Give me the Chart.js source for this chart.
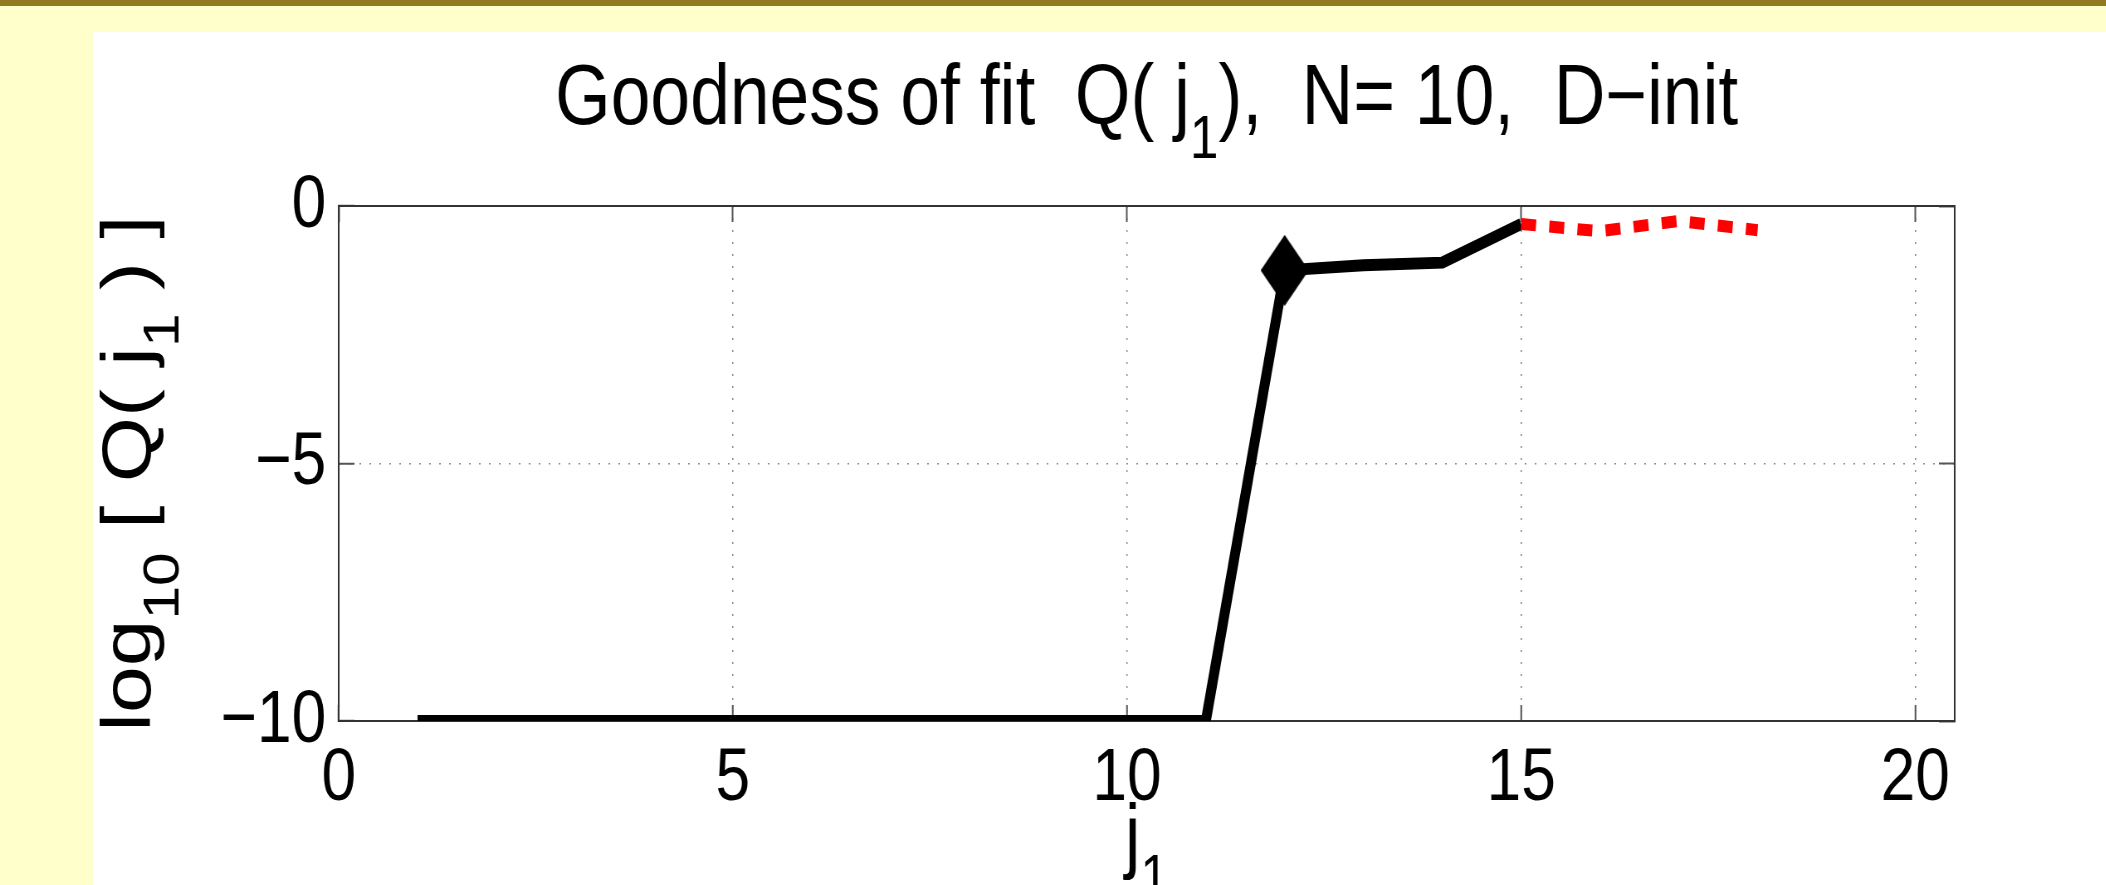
<!DOCTYPE html>
<html>
<head>
<meta charset="utf-8">
<script src="https://cdn.jsdelivr.net/npm/chart.js@4.4.0/dist/chart.umd.min.js"></script>
<style>
    html, body { margin: 0; padding: 0; width: 2106px; height: 885px; overflow: hidden; background: #ffffcc; }
    .band { position: absolute; left: 0; top: 0; width: 2106px; height: 6px; background: #8f7a21; }
    .panel { position: absolute; left: 93px; top: 32px; width: 2013px; height: 853px; background: #fff; overflow: hidden; }
    /* the original figure is squeezed sideways, so draw it wider and squash it */
    .wrap { position: absolute; left: 0; top: 0; width: 2425px; height: 853px; transform: scaleX(0.83); transform-origin: 0 0; }
</style>
</head>
<body>
<div class="band"></div>
<div class="panel">
    <div class="wrap"><canvas id="fitChart"></canvas></div>
</div>
<script>
// data
const jBlack = [1, 2, 3, 4, 5, 6, 7, 8, 9, 10, 11, 12, 13, 14, 15];
const qBlack = [-10, -10, -10, -10, -10, -10, -10, -10, -10, -10, -10, -1.25, -1.15, -1.1, -0.35];
const jRed = [15, 16, 17, 18];
const qRed = [-0.35, -0.49, -0.29, -0.47];
const jMarker = [12];
const qMarker = [-1.25];
const xTickValues = [0, 5, 10, 15, 20];
const yTickValues = [-10, -5, 0];

const fontFamily = "'Liberation Sans', Arial, Helvetica, sans-serif";

const titleParts = [{ t: 'Goodness of fit  Q( j' }, { t: '1', sub: true }, { t: '),  N= 10,  D\u2212init' }];
const yLabelParts = [{ t: 'log' }, { t: '10', sub: true }, { t: ' [ Q( j' }, { t: '1', sub: true }, { t: ' ) ]' }];
const xLabelParts = [{ t: 'j' }, { t: '1', sub: true }];

function toPoints(xs, ys) {
    return xs.map(function(x, i) { return { x: x, y: ys[i] }; });
}

function fmtTick(value) {
    return value < 0 ? '\u2212' + Math.abs(value) : String(value);
}

// MATLAB style diamond, a bit taller than wide
function makeDiamond(w, h) {
    const c = document.createElement('canvas');
    c.width = w;
    c.height = h;
    const g = c.getContext('2d');
    g.fillStyle = '#000';
    g.beginPath();
    g.moveTo(w / 2, 0);
    g.lineTo(w, h / 2);
    g.lineTo(w / 2, h);
    g.lineTo(0, h / 2);
    g.closePath();
    g.fill();
    return c;
}

function drawRich(ctx, parts, x, y, size) {
    const subSize = size * 0.72;
    const subDrop = size * 0.4;
    const fontOf = function(p) { return (p.sub ? subSize : size) + 'px ' + fontFamily; };
    let w = 0;
    parts.forEach(function(p) { ctx.font = fontOf(p); w += ctx.measureText(p.t).width; });
    let cx = x - w / 2;
    ctx.textAlign = 'left';
    ctx.textBaseline = 'alphabetic';
    parts.forEach(function(p) {
        ctx.font = fontOf(p);
        ctx.fillText(p.t, cx, y + (p.sub ? subDrop : 0));
        cx += ctx.measureText(p.t).width;
    });
}

// title and axis labels need subscripts, so draw them here
const mathLabels = {
    id: 'mathLabels',
    afterDraw: function(chart) {
        const ctx = chart.ctx;
        const a = chart.chartArea;
        const midX = (a.left + a.right) / 2;
        const midY = (a.top + a.bottom) / 2;
        ctx.save();
        ctx.fillStyle = '#000';
        drawRich(ctx, titleParts, midX, 92, 86);
        drawRich(ctx, xLabelParts, midX, 831, 84);
        ctx.translate(69, midY + 10);
        ctx.rotate(-Math.PI / 2);
        drawRich(ctx, yLabelParts, 0, 0, 84);
        ctx.restore();
    }
};

window.addEventListener('load', function() {
    const gridColor = '#8a8a8a';
    const tickColor = '#555';
    const borderColor = '#333';

    const ctx = document.getElementById('fitChart').getContext('2d');
    const fitChart = new Chart(ctx, {
        type: 'line',
        data: {
            datasets: [{
                label: 'marker',
                data: toPoints(jMarker, qMarker),
                showLine: false,
                pointStyle: makeDiamond(58, 71),
                pointRadius: 30,
                backgroundColor: '#000',
                order: 0
            }, {
                label: 'extension',
                data: toPoints(jRed, qRed),
                borderColor: '#ff0000',
                borderWidth: 12,
                borderDash: [18, 16],
                borderCapStyle: 'butt',
                pointRadius: 0,
                tension: 0,
                order: 1
            }, {
                label: 'Q(j1)',
                data: toPoints(jBlack, qBlack),
                borderColor: '#000',
                borderWidth: 12,
                borderCapStyle: 'butt',
                borderJoinStyle: 'miter',
                pointRadius: 0,
                tension: 0,
                order: 2
            }]
        },
        options: {
            responsive: true,
            maintainAspectRatio: false,
            animation: false,
            layout: {
                autoPadding: false,
                padding: { top: 174, right: 182, bottom: 24, left: 0 }
            },
            plugins: {
                legend: { display: false },
                tooltip: { enabled: false }
            },
            scales: {
                x: {
                    type: 'linear',
                    position: 'bottom',
                    min: 0,
                    max: 20.5,
                    afterBuildTicks: function(scale) {
                        scale.ticks = xTickValues.map(function(v) { return { value: v }; });
                    },
                    afterFit: function(scale) { scale.height = 140; },
                    grid: {
                        color: gridColor,
                        lineWidth: 1.5,
                        tickLength: -16,
                        tickColor: tickColor,
                        tickWidth: 2,
                        tickBorderDash: []
                    },
                    border: { display: true, color: borderColor, width: 2, dash: [2, 10] },
                    ticks: {
                        padding: 29,
                        color: '#000',
                        maxRotation: 0,
                        font: { family: fontFamily, size: 75 },
                        callback: fmtTick
                    }
                },
                y: {
                    type: 'linear',
                    position: 'left',
                    min: -10,
                    max: 0,
                    afterBuildTicks: function(scale) {
                        scale.ticks = yTickValues.map(function(v) { return { value: v }; });
                    },
                    afterFit: function(scale) { scale.width = 296; },
                    grid: {
                        color: gridColor,
                        lineWidth: 1.5,
                        tickLength: -19,
                        tickColor: tickColor,
                        tickWidth: 2,
                        tickBorderDash: []
                    },
                    border: { display: true, color: borderColor, width: 2, dash: [2, 10] },
                    ticks: {
                        padding: 34,
                        color: '#000',
                        font: { family: fontFamily, size: 75 },
                        callback: fmtTick
                    }
                },
                x2: {
                    type: 'linear',
                    position: 'top',
                    min: 0,
                    max: 20.5,
                    afterBuildTicks: function(scale) {
                        scale.ticks = xTickValues.map(function(v) { return { value: v }; });
                    },
                    afterFit: function(scale) { scale.height = 0; },
                    grid: {
                        drawOnChartArea: false,
                        tickLength: -16,
                        tickColor: tickColor,
                        tickWidth: 2
                    },
                    border: { display: true, color: borderColor, width: 2 },
                    ticks: { display: false }
                },
                y2: {
                    type: 'linear',
                    position: 'right',
                    min: -10,
                    max: 0,
                    afterBuildTicks: function(scale) {
                        scale.ticks = yTickValues.map(function(v) { return { value: v }; });
                    },
                    afterFit: function(scale) { scale.width = 0; },
                    grid: {
                        drawOnChartArea: false,
                        tickLength: -19,
                        tickColor: tickColor,
                        tickWidth: 2
                    },
                    border: { display: true, color: borderColor, width: 2 },
                    ticks: { display: false }
                }
            }
        },
        plugins: [mathLabels]
    });
});
</script>
</body>
</html>
